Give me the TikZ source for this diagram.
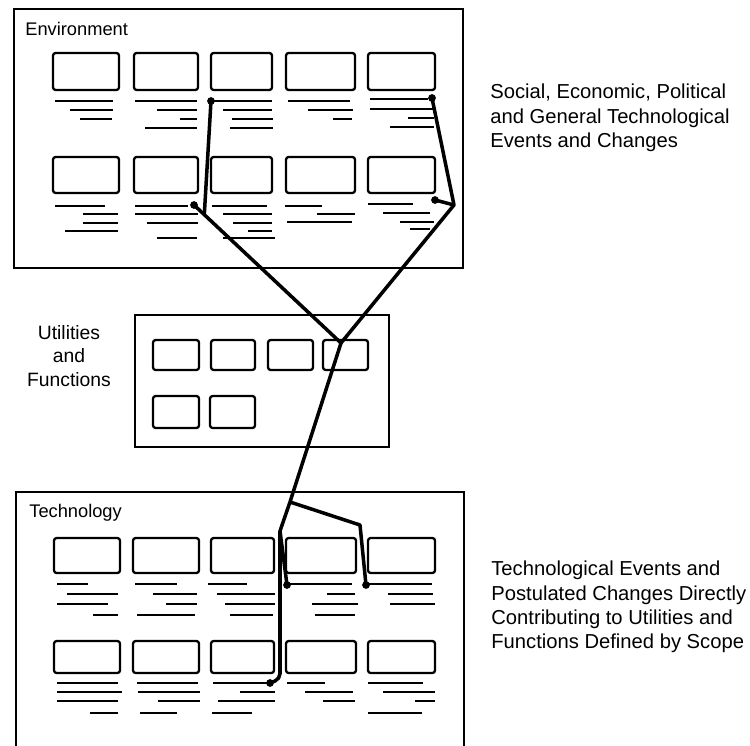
\documentclass[tikz,border=0pt]{standalone}
\usepackage{fontspec}
\setmainfont{Liberation Sans}
\usetikzlibrary{calc}
\def\txtline(#1:#2:#3){\draw[txtline] (#1,#3) -- (#2,#3);}

\begin{document}
\begin{tikzpicture}[x=0.02cm,y=-0.02cm,
	frame/.style={line width=1.3pt},
	cell/.style={line width=1.3pt, rounded corners=1.5pt},
	txtline/.style={line width=1.3pt},
	link/.style={line width=2pt, line join=round},
	title/.style={inner sep=0pt, font=\fontsize{10.4}{12}\selectfont},
	side/.style={inner sep=0pt, align=left, font=\fontsize{11.5}{13.8}\selectfont}]
		%%%%% START %%%%%
		\useasboundingbox (0,0) rectangle (750,746);
		
		% environment
		\draw[frame] (14,9) rectangle (463,268);
		\node[title, anchor=base west] (env) at (25,36) {Environment};
		\foreach \xa/\xb in {53/119,134/198,211/272,286/355,368/435} {
			\draw[cell] (\xa,53) rectangle (\xb,90);
			\draw[cell] (\xa,157) rectangle (\xb,193);
		}
		\txtline(55:113:101) \txtline(70:113:110) \txtline(80:112:119)
		\txtline(135:197:101) \txtline(157:197:110) \txtline(180:197:119) \txtline(145:197:128)
		\txtline(213:272:101) \txtline(223:272:110) \txtline(232:273:119) \txtline(230:273:128)
		\txtline(288:350:101) \txtline(308:353:110) \txtline(333:352:119)
		\txtline(370:428:99) \txtline(370:434:109) \txtline(408:434:118) \txtline(390:434:127)
		
		\txtline(55:105:206) \txtline(83:118:214) \txtline(83:118:223) \txtline(65:118:231)
		\txtline(135:188:206) \txtline(135:198:214) \txtline(147:198:223) \txtline(157:197:238)
		\txtline(212:267:206) \txtline(223:272:214) \txtline(233:272:223) \txtline(248:272:231) \txtline(223:275:238)
		\txtline(285:322:206) \txtline(317:355:214) \txtline(287:352:222)
		\txtline(368:413:204) \txtline(383:430:213) \txtline(400:434:222) \txtline(410:430:229)
		
		\node[side, anchor=west] (envtxt) at (490,118) {Social, Economic, Political\\and General Technological\\Events and Changes};
		
		% utilities and functions
		\draw[frame] (135,315) rectangle (389,447);
		\node[inner sep=0pt, align=center, font=\fontsize{11}{13.6}\selectfont] (util) at (69,356) {Utilities\\and\\Functions};
		\foreach \xa/\xb in {153/199,211/255,268/313,323/368}
			\draw[cell] (\xa,340) rectangle (\xb,370);
		\foreach \xa/\xb in {153/199,210/255}
			\draw[cell] (\xa,396) rectangle (\xb,428);
		
		% technology
		\draw[frame] (16,752) |- (464,492) -- (464,752);
		\node[title, anchor=base west] (tech) at (29,517) {Technology};
		\foreach \xa/\xb in {54/120,133/199,211/274,286/356,368/435} {
			\draw[cell] (\xa,538) rectangle (\xb,573);
			\draw[cell] (\xa,641) rectangle (\xb,673);
		}
		\txtline(57:88:584) \txtline(67:118:594) \txtline(57:108:604) \txtline(93:118:615)
		\txtline(135:177:584) \txtline(153:197:594) \txtline(166:197:604) \txtline(137:195:615)
		\txtline(208:247:584) \txtline(217:275:594) \txtline(225:275:604) \txtline(230:273:615)
		\txtline(288:352:584) \txtline(327:355:594) \txtline(312:358:604) \txtline(315:355:615)
		\txtline(367:432:584) \txtline(388:433:594) \txtline(390:435:604)
		
		\txtline(57:118:683) \txtline(57:122:692) \txtline(57:118:701) \txtline(90:118:713)
		\txtline(137:198:683) \txtline(138:200:692) \txtline(158:200:701) \txtline(140:177:713)
		\txtline(213:267:683) \txtline(240:275:692) \txtline(218:275:701) \txtline(212:252:713)
		\txtline(287:325:683) \txtline(305:353:692) \txtline(323:355:701)
		\txtline(368:423:683) \txtline(383:435:692) \txtline(415:435:701) \txtline(368:422:713)
		
		\node[side, anchor=west] (techtxt) at (491,607) {Technological Events and\\Postulated Changes Directly\\Contributing to Utilities and\\Functions Defined by Scope};
		
		% links
		\coordinate (e3) at (211,101);
		\coordinate (e5) at (432,98);
		\coordinate (e7) at (194,205);
		\coordinate (e10) at (435,200);
		\coordinate (ek) at (454,205);
		\coordinate (hub) at (341,343);
		\coordinate (tb) at (290,502);
		\coordinate (tr) at (360,525);
		\coordinate (tk) at (280,531);
		\coordinate (t4) at (287,585);
		\coordinate (t5) at (366,585);
		\coordinate (t8) at (270,683);
		
		\draw[link] (e7) -- (hub) -- (tb);
		\draw[link] (e3) -- ($(e7)!0.07!(hub)$);
		\draw[link] (e5) -- (ek) -- (hub);
		\draw[link] (e10) -- (ek);
		\draw[link] (tb) -- (tr) -- (t5);
		\draw[link] (tb) -- (tk) -- (t4);
		\draw[link, rounded corners=3pt] (tk) -- (280,679) -- (t8);
		\foreach \p in {e3,e5,e7,e10,t4,t5,t8}
			\fill (\p) circle (2.2pt);
		%%%%% END %%%%%
\end{tikzpicture}
\end{document}
